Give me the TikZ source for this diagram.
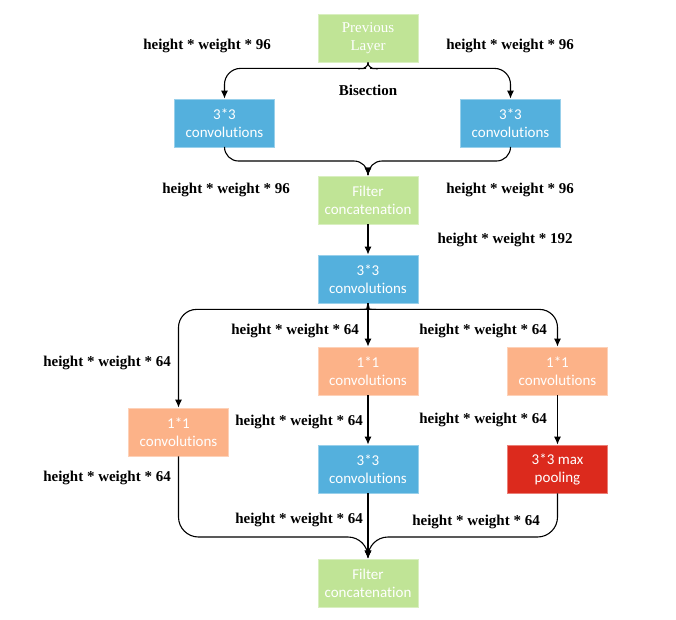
\documentclass[tikz,border=0pt]{standalone}
\usepackage{fontspec}
\setmainfont{Liberation Serif}
\newfontfamily\boxfont[Ligatures=NoCommon]{Carlito}
\usepackage{xcolor}
\usepackage{tikz}
\usetikzlibrary{arrows,arrows.meta,shapes,positioning}
\definecolor{catgreen}{RGB}{192,228,150}
\definecolor{convblue}{RGB}{84,176,221}
\definecolor{reduceorange}{RGB}{252,178,136}
\definecolor{poolred}{RGB}{220,42,29}
\tikzstyle{block} = [rectangle, text=white, align=center, inner sep=0pt,
    minimum width=100pt, minimum height=48pt, line width=0.8pt,
    font=\boxfont\fontsize{15}{18}\selectfont]
\tikzstyle{concat} = [block, fill=catgreen, draw=catgreen!60!white]
\tikzstyle{conv} = [block, fill=convblue, draw=convblue!60!white]
\tikzstyle{reduce} = [block, fill=reduceorange, draw=reduceorange!60!white]
\tikzstyle{pool} = [block, fill=poolred, draw=poolred!60!white]
\tikzstyle{line} = [draw, line width=1.1pt, -{Latex[length=8pt,width=7pt]}]
\tikzstyle{dim} = [font=\bfseries\fontsize{15}{17}\selectfont, inner sep=0pt]

\begin{document}
\begin{tikzpicture}[x=1pt, y=-1pt]
    \useasboundingbox (0,0) rectangle (676,619);
    % Blocks
    \node [concat, font=\rmfamily\fontsize{15}{18}\selectfont] (prev) at (368,38) {Previous\\Layer};
    \node [conv] (convl) at (224.5,123) {3*3\\convolutions};
    \node [conv] (convr) at (510.5,123) {3*3\\convolutions};
    \node [concat] (cat1) at (368,200) {Filter\\concatenation};
    \node [conv] (conv) at (368,279) {3*3\\convolutions};
    \node [reduce] (redm) at (368,371) {1*1\\convolutions};
    \node [reduce, right of=redm, node distance=189.5pt] (redr) {1*1\\convolutions};
    \node [reduce] (redl) at (178.5,432) {1*1\\convolutions};
    \node [conv] (convm) at (368,469) {3*3\\convolutions};
    \node [pool, right of=convm, node distance=189.5pt] (pool) {3*3 max\\pooling};
    \node [concat] (cat2) at (368,583) {Filter\\concatenation};
    % Joints
    \coordinate (join1) at (368,161);
    \coordinate (join2) at (368,537);
    % Edges
    \path [line, rounded corners=16pt] (prev.south) to[out=-90,in=0] ++(-18,6) -| (convl.north);
    \path [line, rounded corners=16pt] (prev.south) to[out=-90,in=180] ++(18,6) -| (convr.north);
    \path [line, rounded corners=14pt] (convl.south) |- (join1) -- (cat1.north);
    \path [line, rounded corners=14pt] (convr.south) |- (join1) -- (cat1.north);
    \path [line] (cat1) -- (conv);
    \path [line, rounded corners=18pt] (conv.south) to[out=-90,in=0] ++(-10,6) -| (redl.north);
    \path [line, rounded corners=18pt] (conv.south) to[out=-90,in=180] ++(10,6) -| (redr.north);
    \path [line] (conv) -- (redm);
    \path [line] (redm) -- (convm);
    \path [line] (redr) -- (pool);
    \path [line, rounded corners=20pt] (redl.south) |- (join2) -- (cat2.north);
    \path [line, rounded corners=20pt] (pool.south) |- (join2) -- (cat2.north);
    \path [line] (convm) -- (cat2);
    % Sizes
    \node [dim] (d1) at (207,46) {height * weight * 96};
    \node [dim] (d2) at (510,46) {height * weight * 96};
    \node [dim] (bis) at (368,90) {Bisection};
    \node [dim] (d3) at (226,190) {height * weight * 96};
    \node [dim] (d4) at (510,190) {height * weight * 96};
    \node [dim] (d5) at (505,240) {height * weight * 192};
    \node [dim] (d6) at (295,331) {height * weight * 64};
    \node [dim] (d7) at (483,331) {height * weight * 64};
    \node [dim] (d8) at (107,363) {height * weight * 64};
    \node [dim] (d9) at (299,422) {height * weight * 64};
    \node [dim] (d10) at (483,420) {height * weight * 64};
    \node [dim] (d11) at (107,478) {height * weight * 64};
    \node [dim] (d12) at (299,520) {height * weight * 64};
    \node [dim] (d13) at (476,522) {height * weight * 64};
\end{tikzpicture}
\end{document}
